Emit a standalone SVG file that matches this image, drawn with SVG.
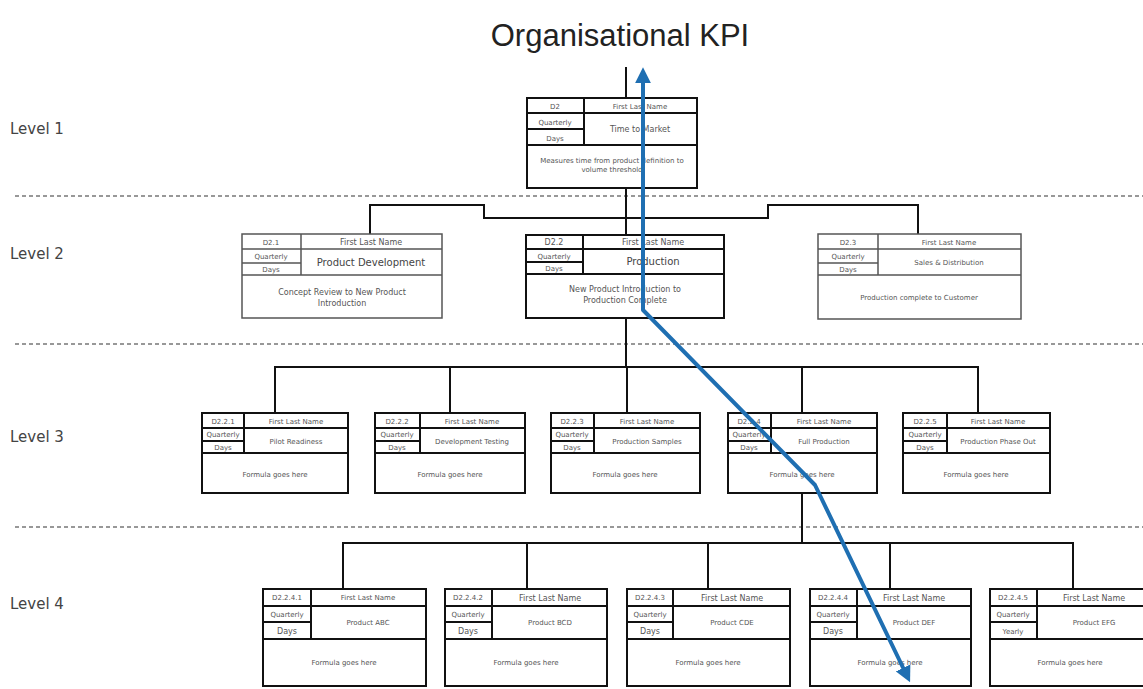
<svg xmlns="http://www.w3.org/2000/svg" width="1143" height="689" viewBox="0 0 1143 689">
  <style>
    .title { font-family: "Liberation Sans", Arial, sans-serif; font-size: 31px; fill: #222; }
    .level { font-family: "DejaVu Sans", Verdana, sans-serif; font-size: 15px; fill: #444; }
    .sep { stroke: #777; stroke-width: 1.3; stroke-dasharray: 4 3; fill: none; }
    .box { fill: #fff; stroke: #111; stroke-width: 2; }
    .boxg { fill: #fff; stroke: #555; stroke-width: 1.5; }
    .ln { stroke: #111; stroke-width: 2; fill: none; }
    .lng { stroke: #555; stroke-width: 1.5; fill: none; }
    .conn { stroke: #111; stroke-width: 2; fill: none; }
    .t { font-family: "DejaVu Sans", Verdana, sans-serif; font-size: 7px; fill: #555; text-anchor: middle; }
    .tm { font-family: "DejaVu Sans", Verdana, sans-serif; font-size: 8px; fill: #555; text-anchor: middle; }
    .tb { font-family: "DejaVu Sans", Verdana, sans-serif; font-size: 10px; fill: #444; text-anchor: middle; }
    .path { stroke: #1f6fb2; stroke-width: 4; fill: none; stroke-linejoin: round; }
  </style>
  <defs>
    <marker id="ah" viewBox="0 0 10 10" refX="7" refY="5" markerWidth="4" markerHeight="4" orient="auto-start-reverse" markerUnits="strokeWidth">
      <path d="M0,0 L10,5 L0,10 Z" fill="#1f6fb2"/>
    </marker>
  </defs>

  <rect width="1143" height="689" fill="#fff"/>

  <text class="title" x="620" y="46" text-anchor="middle">Organisational KPI</text>

  <g id="levels">
    <text class="level" x="10" y="134">Level 1</text>
    <text class="level" x="10" y="259">Level 2</text>
    <text class="level" x="10" y="442">Level 3</text>
    <text class="level" x="10" y="609">Level 4</text>
    <line class="sep" x1="15" y1="196" x2="1143" y2="196"/>
    <line class="sep" x1="15" y1="344" x2="1143" y2="344"/>
    <line class="sep" x1="15" y1="527" x2="1143" y2="527"/>
  </g>

  <g id="connectors">
    <line class="conn" x1="626" y1="67" x2="626" y2="98"/>
    <path class="conn" d="M626,188 V235 M370,234 V205 H484 V218 H768 V205 H918 V234"/>
    <path class="conn" d="M626,318 V367 M275,413 V367 H978 V413 M450,367 V413 M627,367 V413 M802,367 V413"/>
    <path class="conn" d="M802,493 V543 M343,589 V543 H1073 V589 M527,543 V589 M708,543 V589 M890,543 V589"/>
  </g>

  <!-- Level 1 -->
  <g id="d2">
    <rect class="box" x="527" y="98" width="170" height="90"/>
    <path class="ln" d="M527,113 H697 M584,98 V145 M527,129 H584 M527,145 H697"/>
    <text class="t" x="555" y="109">D2</text>
    <text class="t" x="640" y="109">First Last Name</text>
    <text class="t" x="555" y="125">Quarterly</text>
    <text class="t" x="555" y="141">Days</text>
    <text class="tm" x="640" y="132">Time to Market</text>
    <text class="t" x="612" y="163">Measures time from product definition to</text>
    <text class="t" x="612" y="172">volume threshold</text>
  </g>

  <!-- Level 2 -->
  <g id="d2-1">
    <rect class="boxg" x="242" y="234" width="200" height="84"/>
    <path class="lng" d="M242,249 H442 M301,234 V275 M242,263 H301 M242,275 H442"/>
    <text class="t" x="271" y="245">D2.1</text>
    <text class="tm" x="371" y="245">First Last Name</text>
    <text class="t" x="271" y="259">Quarterly</text>
    <text class="t" x="271" y="272">Days</text>
    <text class="tb" x="371" y="266">Product Development</text>
    <text class="tm" x="342" y="295">Concept Review to New Product</text>
    <text class="tm" x="342" y="306">Introduction</text>
  </g>
  <g id="d2-2">
    <rect class="box" x="526" y="235" width="198" height="83"/>
    <path class="ln" d="M526,249 H724 M583,235 V274 M526,262 H583 M526,274 H724"/>
    <text class="tm" x="554" y="245">D2.2</text>
    <text class="tm" x="653" y="245">First Last Name</text>
    <text class="t" x="554" y="259">Quarterly</text>
    <text class="t" x="554" y="271">Days</text>
    <text class="tb" x="653" y="265">Production</text>
    <text class="tm" x="625" y="292">New Product Introduction to</text>
    <text class="tm" x="625" y="303">Production Complete</text>
  </g>
  <g id="d2-3">
    <rect class="boxg" x="818" y="234" width="203" height="85"/>
    <path class="lng" d="M818,249 H1021 M878,234 V275 M818,263 H878 M818,275 H1021"/>
    <text class="t" x="848" y="245">D2.3</text>
    <text class="t" x="949" y="245">First Last Name</text>
    <text class="t" x="848" y="259">Quarterly</text>
    <text class="t" x="848" y="272">Days</text>
    <text class="t" x="949" y="265">Sales &amp; Distribution</text>
    <text class="t" x="919" y="300">Production complete to Customer</text>
  </g>

  <!-- Level 3 -->
  <g id="d2-2-1">
    <rect class="box" x="202" y="413" width="146" height="80"/>
    <path class="ln" d="M202,428 H348 M244,413 V453 M202,441 H244 M202,453 H348"/>
    <text class="t" x="223" y="424">D2.2.1</text>
    <text class="t" x="296" y="424">First Last Name</text>
    <text class="t" x="223" y="437" font-size="5">Quarterly</text>
    <text class="t" x="223" y="450">Days</text>
    <text class="t" x="296" y="444">Pilot Readiness</text>
    <text class="t" x="275" y="477">Formula goes here</text>
  </g>
  <g id="d2-2-2">
    <rect class="box" x="375" y="413" width="150" height="80"/>
    <path class="ln" d="M375,428 H525 M420,413 V453 M375,441 H420 M375,453 H525"/>
    <text class="t" x="397" y="424">D2.2.2</text>
    <text class="t" x="472" y="424">First Last Name</text>
    <text class="t" x="397" y="437" font-size="5">Quarterly</text>
    <text class="t" x="397" y="450">Days</text>
    <text class="t" x="472" y="444">Development Testing</text>
    <text class="t" x="450" y="477">Formula goes here</text>
  </g>
  <g id="d2-2-3">
    <rect class="box" x="551" y="413" width="149" height="80"/>
    <path class="ln" d="M551,428 H700 M594,413 V453 M551,441 H594 M551,453 H700"/>
    <text class="t" x="572" y="424">D2.2.3</text>
    <text class="t" x="647" y="424">First Last Name</text>
    <text class="t" x="572" y="437" font-size="5">Quarterly</text>
    <text class="t" x="572" y="450">Days</text>
    <text class="t" x="647" y="444">Production Samples</text>
    <text class="t" x="625" y="477">Formula goes here</text>
  </g>
  <g id="d2-2-4">
    <rect class="box" x="728" y="413" width="149" height="80"/>
    <path class="ln" d="M728,428 H877 M771,413 V453 M728,441 H771 M728,453 H877"/>
    <text class="t" x="749" y="424">D2.2.4</text>
    <text class="t" x="824" y="424">First Last Name</text>
    <text class="t" x="749" y="437" font-size="5">Quarterly</text>
    <text class="t" x="749" y="450">Days</text>
    <text class="t" x="824" y="444">Full Production</text>
    <text class="t" x="802" y="477">Formula goes here</text>
  </g>
  <g id="d2-2-5">
    <rect class="box" x="903" y="413" width="147" height="80"/>
    <path class="ln" d="M903,428 H1050 M947,413 V453 M903,441 H947 M903,453 H1050"/>
    <text class="t" x="925" y="424">D2.2.5</text>
    <text class="t" x="998" y="424">First Last Name</text>
    <text class="t" x="925" y="437" font-size="5">Quarterly</text>
    <text class="t" x="925" y="450">Days</text>
    <text class="t" x="998" y="444">Production Phase Out</text>
    <text class="t" x="976" y="477">Formula goes here</text>
  </g>

  <!-- Level 4 -->
  <g id="d2-2-4-1">
    <rect class="box" x="263" y="589" width="163" height="97"/>
    <path class="ln" d="M263,606 H426 M311,589 V639 M263,622 H311 M263,639 H426"/>
    <text class="t" x="287" y="600" font-size="6">D2.2.4.1</text>
    <text class="t" x="368" y="600">First Last Name</text>
    <text class="t" x="287" y="617" font-size="6">Quarterly</text>
    <text class="tm" x="287" y="634">Days</text>
    <text class="t" x="368" y="625">Product ABC</text>
    <text class="t" x="344" y="665">Formula goes here</text>
  </g>
  <g id="d2-2-4-2">
    <rect class="box" x="445" y="589" width="162" height="97"/>
    <path class="ln" d="M445,606 H607 M492,589 V639 M445,622 H492 M445,639 H607"/>
    <text class="t" x="468" y="600" font-size="6">D2.2.4.2</text>
    <text class="tm" x="550" y="601">First Last Name</text>
    <text class="t" x="468" y="617" font-size="6">Quarterly</text>
    <text class="tm" x="468" y="634">Days</text>
    <text class="t" x="550" y="625">Product BCD</text>
    <text class="t" x="526" y="665">Formula goes here</text>
  </g>
  <g id="d2-2-4-3">
    <rect class="box" x="627" y="589" width="163" height="97"/>
    <path class="ln" d="M627,606 H790 M673,589 V639 M627,622 H673 M627,639 H790"/>
    <text class="t" x="650" y="600" font-size="6">D2.2.4.3</text>
    <text class="tm" x="732" y="601">First Last Name</text>
    <text class="t" x="650" y="617" font-size="6">Quarterly</text>
    <text class="tm" x="650" y="634">Days</text>
    <text class="t" x="732" y="625">Product CDE</text>
    <text class="t" x="708" y="665">Formula goes here</text>
  </g>
  <g id="d2-2-4-4">
    <rect class="box" x="810" y="589" width="161" height="97"/>
    <path class="ln" d="M810,606 H971 M857,589 V639 M810,622 H857 M810,639 H971"/>
    <text class="t" x="833" y="600" font-size="6">D2.2.4.4</text>
    <text class="tm" x="914" y="601">First Last Name</text>
    <text class="t" x="833" y="617" font-size="6">Quarterly</text>
    <text class="tm" x="833" y="634">Days</text>
    <text class="t" x="914" y="625">Product DEF</text>
    <text class="t" x="890" y="665">Formula goes here</text>
  </g>
  <g id="d2-2-4-5">
    <rect class="box" x="990" y="589" width="165" height="97"/>
    <path class="ln" d="M990,606 H1143 M1037,589 V639 M990,622 H1037 M990,639 H1143"/>
    <text class="t" x="1013" y="600" font-size="6">D2.2.4.5</text>
    <text class="tm" x="1094" y="601">First Last Name</text>
    <text class="t" x="1013" y="617" font-size="6">Quarterly</text>
    <text class="t" x="1013" y="634">Yearly</text>
    <text class="t" x="1094" y="625">Product EFG</text>
    <text class="t" x="1070" y="665">Formula goes here</text>
  </g>

  <!-- drill-down trace across the levels -->
  <g id="trace">
    <path class="path" d="M643,72 V310 L815,485 L908,678" marker-start="url(#ah)" marker-end="url(#ah)"/>
  </g>
</svg>
